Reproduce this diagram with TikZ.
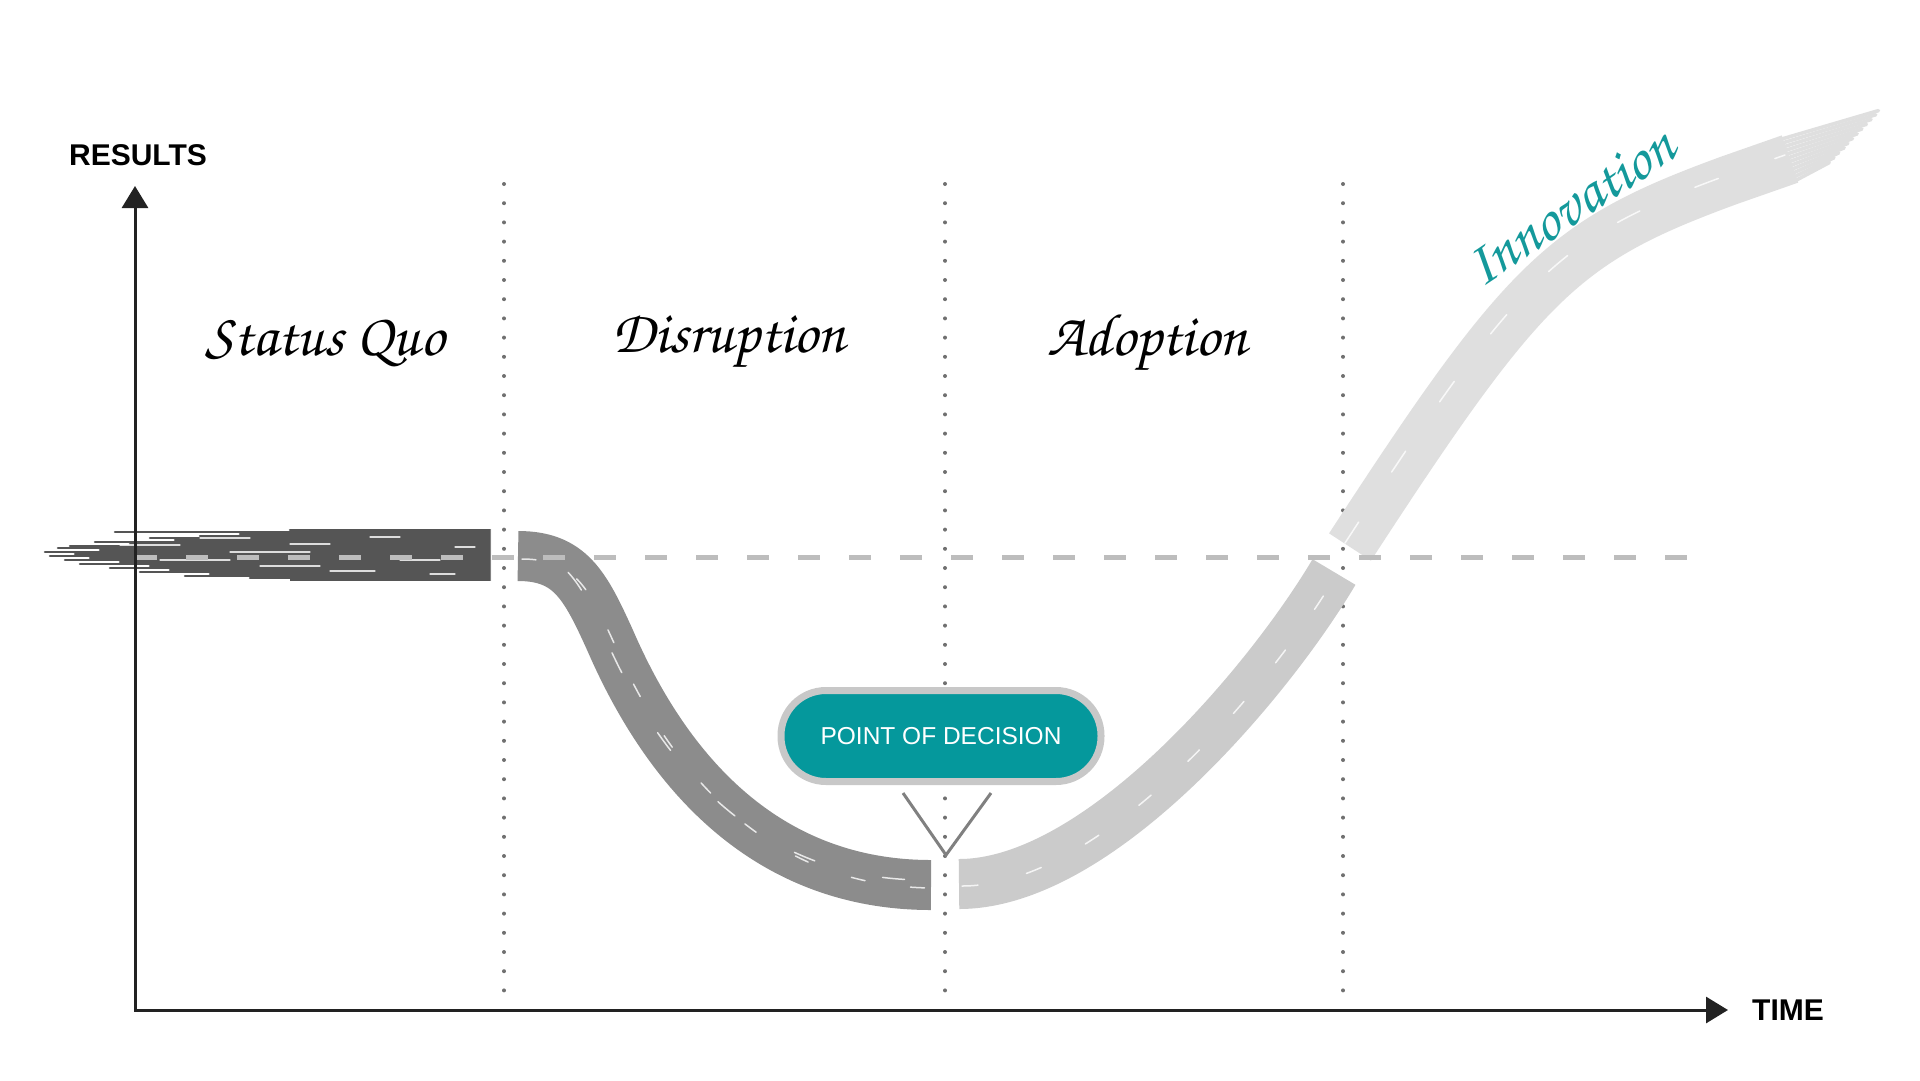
\documentclass[tikz,border=0pt]{standalone}
\usepackage[T1]{fontenc}
\usepackage{fontspec}
\setmainfont{Liberation Sans}
\usetikzlibrary{arrows.meta}

\definecolor{axisgrey}{HTML}{222222}
\definecolor{dotgrey}{HTML}{707070}
\definecolor{dashgrey}{HTML}{BDBDBD}
\definecolor{darkband}{HTML}{555555}
\definecolor{midband}{HTML}{8C8C8C}
\definecolor{lowband}{HTML}{CBCBCB}
\definecolor{upband}{HTML}{DFDFDF}
\definecolor{pillring}{HTML}{C8C8C8}
\definecolor{decisionteal}{HTML}{05989C}
\definecolor{inkteal}{HTML}{14999B}

\newcommand{\handfont}{\fontencoding{T1}\fontfamily{pzc}\fontseries{mb}\fontshape{it}\selectfont}

\begin{document}
\begin{tikzpicture}[x=1pt, y=-1pt,
    axis/.style={draw=axisgrey, line width=3pt, {Triangle[length=22pt, width=26pt]}-{Triangle[length=22pt, width=26pt]}},
    axislabel/.style={font=\bfseries\fontsize{30}{34}\selectfont, inner sep=0pt},
    phase/.style={font=\handfont\fontsize{60}{70}\selectfont, inner sep=0pt, anchor=base},
    dotline/.style={draw=dotgrey, line width=4pt, line cap=round, dash pattern=on 0pt off 19.2pt},
    levelline/.style={draw=dashgrey, line width=5pt, dash pattern=on 22pt off 29pt},
    band/.style={line width=50pt, line cap=butt},
    brush/.style={draw=white, line width=1.5pt, line cap=round, opacity=0.8},
    pointer/.style={draw=gray, line width=3pt},
    decision/.style={draw=pillring, line width=7pt, fill=decisionteal, text=white,
        rounded corners=45pt, minimum width=320pt, minimum height=91pt, inner sep=0pt,
        font=\fontsize{24.5}{28}\selectfont}]
    \useasboundingbox (0,0) rectangle (1920,1080);

    \pgfmathsetmacro{\level}{557}  % status quo level, points from the top

    % phase borders
    \foreach \x in {504,945,1343}
        \draw[dotline] (\x,184) -- (\x,998);

    % status quo: dark brush stroke, frayed on the left
    \fill[darkband] (290,531) rectangle (490,581);
    \foreach \yy/\xs in {530/290,532/115,534/240,536/200,538/150,540/175,542/95,544/130,546/70,
                         548/58,550/100,552/45,554/75,556/50,558/90,560/65,562/120,564/80,
                         566/150,568/110,570/170,572/140,574/210,576/185,578/250,580/300}
        \draw[darkband, line width=2.6pt, line cap=round] (\xs,\yy) -- (490,\yy);
    \foreach \xs/\yy/\len in {120/545/60,160/560/70,200/538/50,230/552/80,260/566/60,290/544/40,
                              330/571/45,370/537/30,400/560/40,430/574/25,455/547/20}
        \draw[brush, line width=1.2pt] (\xs,\yy) -- ++(\len,0);

    % disruption
    \def\dropcurve{(518,556) .. controls (570,556) and (585,585) .. (610,640) .. controls (675,790) and (780,885) .. (931,885)}
    \draw[band, midband] \dropcurve;
    \draw[brush, dash pattern=on 14pt off 46pt, shift={(4,3)}] \dropcurve;
    \draw[brush, dash pattern=on 22pt off 70pt, dash phase=30pt, shift={(-6,-5)}] \dropcurve;

    % adoption and innovation
    \def\risecurve{(959,884) .. controls (1100,884) and (1270,680) .. (1334,572)}
    \def\topcurve{(1350,547) .. controls (1525,278) and (1563,241) .. (1730,180) -- (1790,159)}
    \draw[band, lowband] \risecurve;
    \draw[band, upband] \topcurve;
    \foreach \o/\len in {-22/100,-18/96,-14/90,-10/84,-6/78,-2/72,2/66,6/60,10/55,14/48,18/42,22/36}{
        \pgfmathsetmacro{\sx}{1790+0.33*\o-2}
        \pgfmathsetmacro{\sy}{159+0.94*\o+1}
        \pgfmathsetmacro{\ex}{1790+0.94*\len+0.25*\o}
        \pgfmathsetmacro{\ey}{159-0.33*\len+0.7*\o}
        \draw[upband, line width=3.6pt, line cap=round] (\sx,\sy) -- (\ex,\ey);
    }
    \draw[brush, dash pattern=on 16pt off 50pt, shift={(3,2)}] \risecurve;
    \draw[brush, dash pattern=on 25pt off 60pt, shift={(-5,-4)}] \topcurve;

    % status quo level
    \draw[levelline] (135,\level) -- (1696,\level);

    % axes
    \coordinate (O) at (135,1010);
    \coordinate (ytop) at (135,186);
    \coordinate (xend) at (1728,1010);
    \draw[axis] (ytop) -- (O) -- (xend);
    \node[axislabel] (results) at (138,155) {RESULTS};
    \node[axislabel] (time) at (1788,1010) {TIME};

    % point of decision
    \node[decision] (decision) at (941,736) {POINT OF DECISION};
    \coordinate (vleft) at (903,793);
    \coordinate (vtip) at (946,855);
    \coordinate (vright) at (991,793);
    \draw[pointer] (vleft) -- (vtip) -- (vright);

    % phase names
    \node[phase] (statusquo) at (325,355) {Status Quo};
    \node[phase] (disruption) at (729,352) {Disruption};
    \node[phase] (adoption) at (1147,355) {Adoption};
    \node[phase, text=inkteal, anchor=center, rotate=34] (innovation) at (1570,207) {Innovation};
\end{tikzpicture}
\end{document}
